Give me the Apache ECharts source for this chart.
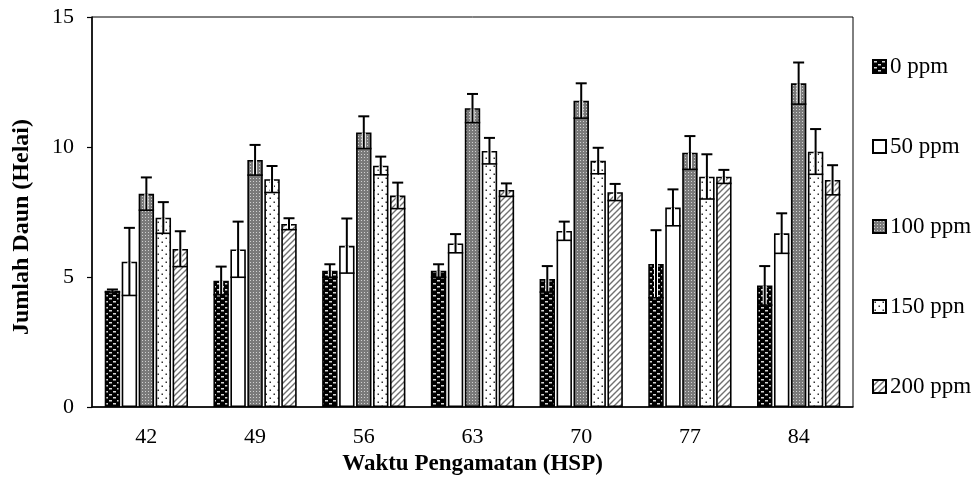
<!DOCTYPE html>
<html>
<head>
<meta charset="utf-8">
<script src="https://cdn.jsdelivr.net/npm/echarts@6/dist/echarts.min.js"></script>
<style>html,body{margin:0;padding:0;background:#fff;}#c{width:980px;height:484px;}</style>
</head>
<body>
<div id="c"></div>
<script>
const categories = ['42', '49', '56', '63', '70', '77', '84'];
const seriesNames = ['0 ppm', '50 ppm', '100 ppm', '150 ppn', '200 ppm'];
const s0 = [4.47, 4.86, 5.24, 5.24, 4.92, 5.50, 4.67];
const e0 = [0.05, 0.54, 0.25, 0.25, 0.50, 1.30, 0.75];
const s50 = [5.59, 6.06, 6.20, 6.29, 6.77, 7.67, 6.68];
const e50 = [1.30, 1.07, 1.05, 0.36, 0.36, 0.70, 0.77];
const s100 = [8.20, 9.50, 10.56, 11.49, 11.78, 9.78, 12.45];
const e100 = [0.63, 0.58, 0.62, 0.55, 0.67, 0.64, 0.80];
const s150 = [7.28, 8.76, 9.28, 9.85, 9.47, 8.86, 9.82];
const e150 = [0.60, 0.51, 0.35, 0.50, 0.50, 0.86, 0.87];
const s200 = [6.08, 7.04, 8.13, 8.35, 8.26, 8.86, 8.73];
const e200 = [0.68, 0.22, 0.50, 0.25, 0.32, 0.26, 0.57];
const yTicks = [0, 5, 10, 15];

const values = [s0, s50, s100, s150, s200];
const errors = [e0, e50, e100, e150, e200];

function tile(w, h, draw) {
  const c = document.createElement('canvas');
  c.width = w; c.height = h;
  const g = c.getContext('2d');
  draw(g, w, h);
  return c;
}
const pat0 = tile(8, 6, (g, w, h) => {
  g.fillStyle = '#000'; g.fillRect(0, 0, w, h);
  g.fillStyle = '#d8d8d8';
  g.fillRect(1, 1, 3, 1.5);
  g.fillRect(5, 4, 3, 1.5);
});
const pat100 = tile(3, 3, (g, w, h) => {
  g.fillStyle = '#7a7a7a'; g.fillRect(0, 0, w, h);
  g.fillStyle = '#d0d0d0'; g.fillRect(1, 1, 1, 1);
});
const pat150 = tile(8, 8, (g, w, h) => {
  g.fillStyle = '#fff'; g.fillRect(0, 0, w, h);
  g.fillStyle = '#333';
  g.fillRect(1.5, 1.5, 1.5, 1.5);
  g.fillRect(5.5, 5.5, 1.5, 1.5);
});
const pat200 = tile(6, 6, (g, w, h) => {
  g.fillStyle = '#fff'; g.fillRect(0, 0, w, h);
  g.strokeStyle = '#707070'; g.lineWidth = 1.4;
  g.beginPath();
  g.moveTo(-1, 7); g.lineTo(7, -1);
  g.moveTo(-1, 1); g.lineTo(1, -1);
  g.moveTo(5, 7); g.lineTo(7, 5);
  g.stroke();
});
const fills = [
  { image: pat0, repeat: 'repeat' },
  '#ffffff',
  { image: pat100, repeat: 'repeat' },
  { image: pat150, repeat: 'repeat' },
  { image: pat200, repeat: 'repeat' }
];

const CAT_GAP = 0.234;
const BAR_GAP = 0.1;
const font = "'Liberation Serif', 'Times New Roman', serif";

const series = [];
seriesNames.forEach((name, i) => {
  series.push({
    name: name,
    type: 'bar',
    barCategoryGap: (CAT_GAP * 100) + '%',
    barGap: (BAR_GAP * 100) + '%',
    data: values[i],
    itemStyle: { color: fills[i], borderColor: '#000', borderWidth: 1.6 },
    emphasis: { disabled: true },
    z: 2
  });
});
seriesNames.forEach((name, i) => {
  series.push({
    name: name + ' err',
    type: 'custom',
    z: 5,
    silent: true,
    data: values[i].map((v, k) => [k, v, errors[i][k]]),
    renderItem: function (params, api) {
      const k = api.value(0), v = api.value(1), e = api.value(2);
      const band = api.size([1, 0])[0];
      const usable = band * (1 - CAT_GAP);
      const b = usable / (5 + 4 * BAR_GAP);
      const base = api.coord([k, v]);
      const cx = base[0] - usable / 2 + b / 2 + i * (b + BAR_GAP * b);
      const yTop = base[1];
      const yHi = api.coord([k, v + e])[1];
      const yLo = api.coord([k, v - e])[1];
      const ls = { stroke: '#000', lineWidth: 2 };
      return {
        type: 'group',
        children: [
          { type: 'line', shape: { x1: cx, y1: yLo, x2: cx, y2: yTop }, style: { stroke: '#fff', lineWidth: 4 } },
          { type: 'line', shape: { x1: cx, y1: yLo, x2: cx, y2: yHi }, style: ls },
          { type: 'line', shape: { x1: cx - 5.5, y1: yHi, x2: cx + 5.5, y2: yHi }, style: ls },
          { type: 'line', shape: { x1: cx - b / 2, y1: yLo, x2: cx + b / 2, y2: yLo }, style: { stroke: '#000', lineWidth: 1.6 } }
        ]
      };
    }
  });
});

const chart = echarts.init(document.getElementById('c'), null, { renderer: 'canvas' });
chart.setOption({
  animation: false,
  backgroundColor: '#fff',
  textStyle: { fontFamily: font },
  grid: {
    left: 92, right: 127, top: 17, bottom: 77,
    containLabel: false, outerBoundsMode: 'none',
    show: true, borderColor: '#000', borderWidth: 1, backgroundColor: 'transparent'
  },
  legend: {
    data: seriesNames,
    orient: 'vertical',
    left: 867,
    top: 50,
    itemWidth: 13,
    itemHeight: 13,
    itemGap: 57,
    icon: 'rect',
    selectedMode: false,
    textStyle: { fontFamily: font, fontSize: 23, color: '#000', padding: [0, 0, 0, -1] }
  },
  xAxis: {
    type: 'category',
    data: categories,
    axisLine: { lineStyle: { color: '#000', width: 1.5 } },
    axisTick: { show: false },
    axisLabel: { fontFamily: font, fontSize: 22, color: '#000', margin: 19 },
    name: 'Waktu Pengamatan (HSP)',
    nameLocation: 'middle',
    nameGap: 46,
    nameTextStyle: { fontFamily: font, fontSize: 23, fontWeight: 'bold', color: '#000' }
  },
  yAxis: {
    type: 'value',
    min: yTicks[0],
    max: yTicks[yTicks.length - 1],
    interval: 5,
    axisLine: { show: true, lineStyle: { color: '#000', width: 1.5 } },
    axisTick: { show: true, length: 5, lineStyle: { color: '#000', width: 1.2 } },
    splitLine: { show: false },
    axisLabel: { fontFamily: font, fontSize: 22, color: '#000', margin: 18 },
    name: 'Jumlah Daun (Helai)',
    nameLocation: 'middle',
    nameGap: 58,
    nameTextStyle: { fontFamily: font, fontSize: 24, fontWeight: 'bold', color: '#000', padding: [0, 30, 0, 0] }
  },
  series: series
});
</script>
</body>
</html>
